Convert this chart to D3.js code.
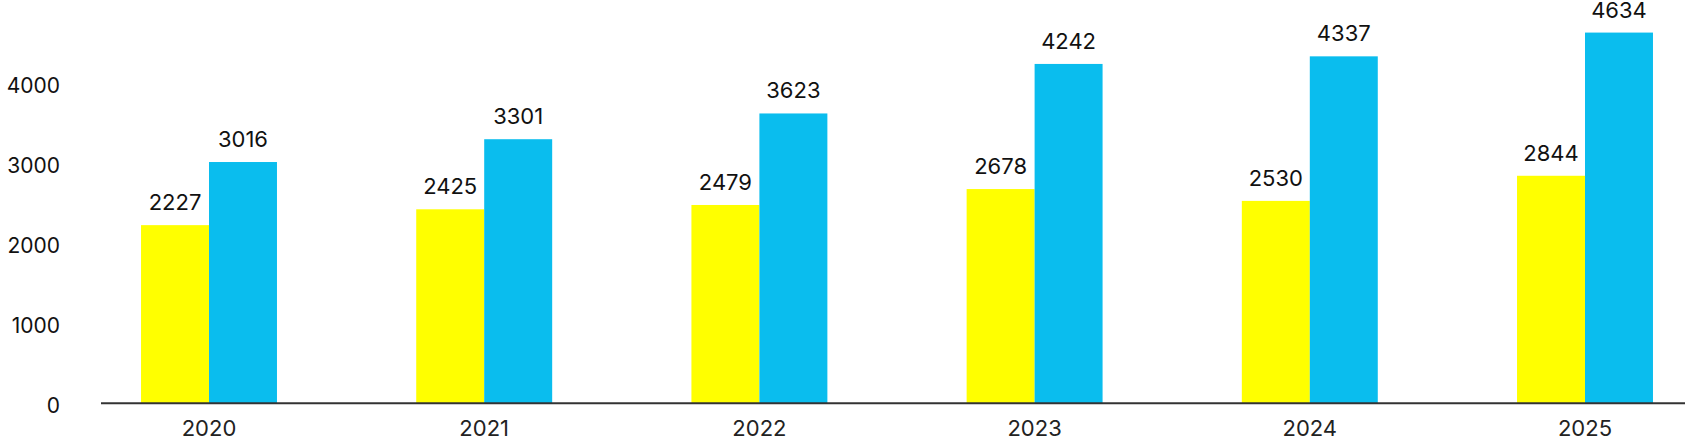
<!DOCTYPE html>
<html>
<head>
<meta charset="utf-8">
<script src="https://cdn.jsdelivr.net/npm/d3@7"></script>
<style>
  html, body { margin: 0; padding: 0; background: #fff; }
  svg { display: block; font-family: Inter, "Noto Sans", sans-serif; }
</style>
</head>
<body>
<svg id="chart" width="1685" height="439"></svg>
<script>
const years = ["2020", "2021", "2022", "2023", "2024", "2025"];
const seriesA = [2227, 2425, 2479, 2678, 2530, 2844];
const seriesB = [3016, 3301, 3623, 4242, 4337, 4634];
const yTicks = [0, 1000, 2000, 3000, 4000];
const seriesNames = ["A", "B"];
const colors = ["#ffff00", "#0abdee"];

const svg = d3.select("#chart");
const W = 1685, H = 439;

const x = d3.scaleBand().domain(years).range([71.4, 1722.6]).padding(0);
const barW = x.bandwidth() * 0.247;
const xs = d3.scaleBand().domain(seriesNames)
  .range([x.bandwidth() / 2 - barW, x.bandwidth() / 2 + barW]);
const y = d3.scaleLinear().domain([0, 5000]).range([403.3, 3.3]);

const data = years.map((yr, i) => ({ year: yr, values: [seriesA[i], seriesB[i]] }));

const groups = svg.append("g").selectAll("g").data(data).join("g")
  .attr("transform", d => `translate(${x(d.year)},0)`);

groups.selectAll("rect").data(d => d.values.map((v, j) => ({ key: seriesNames[j], v, j })))
  .join("rect")
  .attr("x", d => xs(d.key))
  .attr("width", xs.bandwidth())
  .attr("y", d => y(d.v))
  .attr("height", d => y(0) - y(d.v))
  .attr("fill", d => colors[d.j]);

groups.selectAll("text.val").data(d => d.values.map((v, j) => ({ key: seriesNames[j], v, j })))
  .join("text")
  .attr("class", "val")
  .attr("x", d => xs(d.key) + xs.bandwidth() / 2)
  .attr("y", d => y(d.v) - 15)
  .attr("text-anchor", "middle")
  .attr("font-size", 22)
  .attr("fill", "#111")
  .text(d => d.v);

// baseline
svg.append("line")
  .attr("x1", 101).attr("x2", 1685)
  .attr("y1", y(0)).attr("y2", y(0))
  .attr("stroke", "#333").attr("stroke-width", 2);

// x axis labels
const xAxis = svg.append("g")
  .attr("transform", `translate(0,${y(0)})`)
  .call(d3.axisBottom(x).tickSize(0).tickPadding(0));
xAxis.select(".domain").remove();
xAxis.selectAll("text")
  .attr("y", 33)
  .attr("dy", 0)
  .attr("font-size", 22)
  .attr("font-family", "Inter, 'Noto Sans', sans-serif")
  .attr("fill", "#222");

// y axis labels
const yAxis = svg.append("g")
  .attr("transform", "translate(60,0)")
  .call(d3.axisLeft(y).tickValues(yTicks).tickSize(0).tickPadding(0).tickFormat(d3.format("d")));
yAxis.select(".domain").remove();
yAxis.selectAll("text")
  .attr("dy", "0.45em")
  .attr("font-size", 21)
  .attr("font-family", "Inter, 'Noto Sans', sans-serif")
  .attr("fill", "#111");
</script>
</body>
</html>
